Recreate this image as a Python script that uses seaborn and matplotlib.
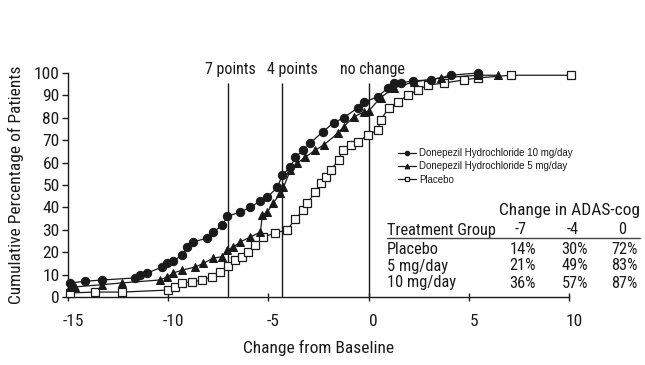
import matplotlib
matplotlib.use("Agg")
import matplotlib.pyplot as plt
from matplotlib import font_manager
import matplotlib.transforms as mtrans
import seaborn as sns
import pandas as pd

# ---------------- data ----------------
x_10mg = [-14.9, -14.15, -13.3, -11.65, -11.4, -11.05, -10.3, -10.05, -9.75, -9.3,
          -9.05, -8.75, -8.05, -7.75, -7.3, -7.05, -6.4, -5.9, -5.4, -5.05,
          -4.55, -4.3, -3.9, -3.65, -3.25, -2.9, -2.3, -1.75, -1.25, -0.55,
          -0.25, 0.45, 0.95, 1.25, 1.6, 2.2, 3.1, 4.1, 5.45]
y_10mg = [6.3, 7.0, 7.6, 8.5, 9.8, 10.7, 13.4, 15.0, 16.0, 18.8,
          22.3, 24.6, 26.3, 29.0, 32.0, 36.0, 38.0, 40.0, 43.0, 44.6,
          49.0, 54.5, 58.0, 62.5, 65.6, 68.8, 73.7, 77.7, 80.0, 84.4,
          87.0, 89.3, 93.3, 95.5, 95.5, 96.5, 96.9, 99.0, 100.0]

x_5mg = [-14.9, -14.65, -13.3, -12.3, -10.4, -10.05, -9.75, -9.3, -8.65, -8.25,
         -7.75, -7.3, -7.05, -6.75, -6.4, -5.9, -5.4, -5.3, -5.05, -4.75,
         -4.4, -4.25, -3.9, -3.55, -3.15, -2.65, -2.25, -1.55, -1.25, -0.75,
         -0.25, 0.0, 0.6, 1.25, 2.25, 3.6, 5.45, 6.45]
y_5mg = [4.5, 4.5, 5.5, 6.3, 7.6, 9.0, 10.7, 12.0, 13.4, 15.0,
         17.4, 18.0, 21.0, 22.3, 24.6, 26.8, 29.0, 36.6, 38.0, 42.0,
         46.4, 49.0, 56.7, 59.8, 62.5, 65.6, 67.8, 73.0, 76.0, 80.4,
         82.5, 83.0, 89.0, 93.3, 96.0, 97.8, 99.0, 99.0]

x_pbo = [-14.9, -13.65, -12.3, -10.0, -9.65, -9.3, -8.8, -8.3, -7.8, -7.4,
         -7.0, -6.65, -6.3, -6.0, -5.65, -5.25, -4.65, -4.05, -3.65, -3.25,
         -3.05, -2.65, -2.4, -2.15, -1.9, -1.5, -1.3, -0.9, -0.55, -0.05,
         0.45, 0.6, 1.0, 1.45, 1.95, 2.45, 2.95, 3.75, 4.75, 5.45,
         7.1, 10.1]
y_pbo = [1.8, 2.2, 2.2, 3.1, 4.5, 6.3, 6.7, 7.6, 9.0, 11.0,
         14.0, 16.5, 18.0, 20.0, 23.0, 26.8, 28.6, 30.0, 35.0, 38.8,
         42.0, 47.0, 51.0, 53.6, 56.7, 61.0, 65.6, 68.0, 69.0, 72.3,
         74.5, 79.0, 84.4, 87.0, 90.0, 92.4, 94.6, 95.5, 96.9, 97.8,
         99.0, 99.0]

series_labels = ["Donepezil Hydrochloride 10 mg/day",
                 "Donepezil Hydrochloride 5 mg/day",
                 "Placebo"]

vline_x = [-7, -4.3, 0]
vline_labels = ["7 points", "4 points", "no change"]
vline_label_x = [-6.9, -3.8, 0.2]

x_ticks = [-15, -10, -5, 0, 5, 10]
y_ticks = [0, 10, 20, 30, 40, 50, 60, 70, 80, 90, 100]

table_title = "Change in ADAS-cog"
table_header = ["Treatment Group", "-7", "-4", "0"]
table_rows = ["Placebo", "5 mg/day", "10 mg/day"]
table_values = [["14%", "30%", "72%"],
                ["21%", "49%", "83%"],
                ["36%", "57%", "87%"]]

# ---------------- style ----------------
sns.set_theme(style="white")
avail = {f.name for f in font_manager.fontManager.ttflist}
narrow = next((f for f in ["Liberation Sans Narrow", "DejaVu Sans Condensed",
                           "Roboto Condensed"] if f in avail), None)
if narrow is None:
    narrow = "Roboto"
    big = 10
    tab = 9.5
else:
    big = 12.5
    tab = 11.8
reg = "Liberation Sans" if "Liberation Sans" in avail else "DejaVu Sans"
plt.rcParams["font.family"] = [narrow, "DejaVu Sans"]
plt.rcParams["axes.unicode_minus"] = False

W, H = 645, 365
fig = plt.figure(figsize=(W / 100, H / 100), dpi=100)
fig.patch.set_facecolor("white")
ax = fig.add_axes([68 / W, 1 - 297 / H, (569 - 68) / W, (297 - 73) / H])
ax.set_facecolor("white")

ink = "#1a1a1a"

df10 = pd.DataFrame({"x": x_10mg, "y": y_10mg})
df5 = pd.DataFrame({"x": x_5mg, "y": y_5mg})
dfp = pd.DataFrame({"x": x_pbo, "y": y_pbo})

common = dict(x="x", y="y", ax=ax, color=ink, linewidth=0.9, estimator=None,
              sort=False, markeredgecolor=ink, clip_on=False)
sns.lineplot(data=df10, marker="o", markersize=6, markerfacecolor=ink,
             label=series_labels[0], zorder=5, **common)
sns.lineplot(data=df5, marker="^", markersize=6.3, markerfacecolor=ink,
             label=series_labels[1], zorder=4, **common)
sns.lineplot(data=dfp, marker="s", markersize=5.6, markerfacecolor="white",
             markeredgewidth=0.9, label=series_labels[2], zorder=3, **common)

ax.set_xlim(-15, 10)
ax.set_ylim(0, 100)
ax.set_xticks(x_ticks)
ax.set_yticks(y_ticks)
ax.set_xticklabels([str(v) for v in x_ticks])
ax.set_yticklabels([str(v) for v in y_ticks])
for s in ["top", "right"]:
    ax.spines[s].set_visible(False)
for s in ["left", "bottom"]:
    ax.spines[s].set_color(ink)
    ax.spines[s].set_linewidth(1.0)
ax.tick_params(axis="y", direction="out", length=4, width=1, pad=2,
               labelsize=big, colors=ink, left=True)
ax.tick_params(axis="x", direction="inout", length=6, width=1, pad=9,
               labelsize=big, colors=ink, bottom=True)
offset = mtrans.ScaledTranslation(5 / 100, 0, fig.dpi_scale_trans)
for lbl in ax.get_xticklabels():
    lbl.set_transform(lbl.get_transform() + offset)
ax.grid(False)

ax.set_xlabel("Change from Baseline", fontsize=big, color=ink, labelpad=8)
ax.set_ylabel("Cumulative Percentage of Patients", fontsize=big, color=ink,
              labelpad=7)

# vertical reference lines
ax.vlines(vline_x, 0, 95.5, color=ink, linewidth=1.0, zorder=2)
for lx, lab in zip(vline_label_x, vline_labels):
    ax.text(lx, 101.5, lab, ha="center", va="center", fontsize=big - 1,
            color=ink, clip_on=False)

# legend
leg = ax.legend(loc="upper left", bbox_to_anchor=(398 / W, 1 - 148 / H),
                bbox_transform=fig.transFigure, frameon=False,
                prop={"family": reg, "size": 7}, handlelength=1.8,
                handletextpad=0.4, labelspacing=0.35, markerscale=0.55,
                borderaxespad=0, borderpad=0)
for t in leg.get_texts():
    t.set_color(ink)

# table
def px(x, y):
    return x / W, 1 - y / H

fig.text(*px(640, 210), table_title, ha="right", va="center",
         fontsize=big, color=ink)
fig.text(*px(387, 230), table_header[0], ha="left", va="center",
         fontsize=tab, color=ink)
col_centers = [521, 573, 622]
col_rights = [536, 588, 638]
for cx, h in zip(col_centers, table_header[1:]):
    fig.text(*px(cx, 230), h, ha="center", va="center", fontsize=tab,
             color=ink)
fig.add_artist(plt.Line2D([387 / W, 640 / W], [1 - 238 / H, 1 - 238 / H],
                          color="#444444", linewidth=1.0,
                          transform=fig.transFigure))
row_y = [249, 266, 283]
for ry, name, vals in zip(row_y, table_rows, table_values):
    fig.text(*px(387, ry), name, ha="left", va="center", fontsize=tab,
             color=ink)
    for rx, v in zip(col_rights, vals):
        fig.text(*px(rx, ry), v, ha="right", va="center", fontsize=tab,
                 color=ink)

fig.savefig("out.png", dpi=100, facecolor="white")
